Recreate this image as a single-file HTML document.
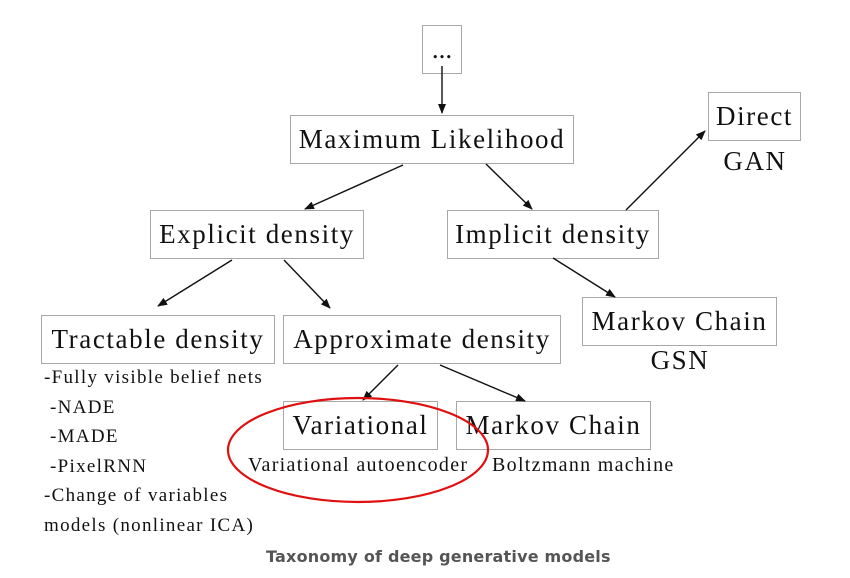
<!DOCTYPE html>
<html><head><meta charset="utf-8"><style>
body{margin:0;width:850px;height:578px;background:#fff;position:relative;overflow:hidden;font-family:"Liberation Serif",serif;color:#111}
.b{position:absolute;border:1px solid #a8a8a8;box-sizing:border-box;display:flex;align-items:center;justify-content:center;font-size:27px;letter-spacing:1.6px;white-space:nowrap;background:#fff}
.t{position:absolute;white-space:nowrap;font-size:20px;letter-spacing:1.3px}
.l{position:absolute;white-space:nowrap;font-size:27px;letter-spacing:1.6px;text-align:center}
</style></head><body>
<div class="b" style="left:422px;top:25px;width:40px;height:49px;letter-spacing:0">...</div>
<div class="b" style="left:290px;top:115px;width:284px;height:49px">Maximum Likelihood</div>
<div class="b" style="left:708px;top:92px;width:93px;height:49px">Direct</div>
<div class="l" style="left:705px;top:146px;width:100px">GAN</div>
<div class="b" style="left:150px;top:210px;width:214px;height:49px">Explicit density</div>
<div class="b" style="left:447px;top:210px;width:212px;height:49px">Implicit density</div>
<div class="b" style="left:41px;top:315px;width:234px;height:49px">Tractable density</div>
<div class="b" style="left:283px;top:315px;width:278px;height:49px">Approximate density</div>
<div class="b" style="left:582px;top:297px;width:195px;height:49px">Markov Chain</div>
<div class="l" style="left:630px;top:345px;width:100px">GSN</div>
<div class="b" style="left:283px;top:401px;width:155px;height:49px">Variational</div>
<div class="b" style="left:456px;top:401px;width:195px;height:49px;background:transparent">Markov Chain</div>
<div class="t" style="left:248px;top:454px">Variational autoencoder</div>
<div class="t" style="left:492px;top:454px">Boltzmann machine</div>
<div class="t" style="left:44px;top:363px;line-height:29.5px;font-size:19px">-Fully visible belief nets<br>&nbsp;-NADE<br>&nbsp;-MADE<br>&nbsp;-PixelRNN<br>-Change of variables<br>models (nonlinear ICA)</div>
<div style="position:absolute;left:266px;top:547px;white-space:nowrap;font-family:'DejaVu Sans',sans-serif;font-weight:bold;font-size:16px;letter-spacing:0.2px;color:#555">Taxonomy of deep generative models</div>
<svg width="850" height="578" style="position:absolute;left:0;top:0" >
<defs><marker id="a" markerWidth="10" markerHeight="8" refX="9" refY="4" orient="auto" markerUnits="userSpaceOnUse"><path d="M0,0 L10,4 L0,8 Z" fill="#111"/></marker></defs>
<g stroke="#111" stroke-width="1.4" marker-end="url(#a)">
<line x1="442" y1="66" x2="442" y2="113"/>
<line x1="403" y1="165" x2="305" y2="209"/>
<line x1="486" y1="164" x2="532" y2="209"/>
<line x1="626" y1="210" x2="705" y2="131"/>
<line x1="232" y1="260" x2="158" y2="306"/>
<line x1="284" y1="260" x2="330" y2="308"/>
<line x1="553" y1="258" x2="615" y2="297"/>
<line x1="398" y1="365" x2="363" y2="400"/>
<line x1="440" y1="365" x2="525" y2="401"/>
</g>
<ellipse cx="358" cy="450" rx="130" ry="52" fill="none" stroke="#e01010" stroke-width="2.2"/>
</svg>
</body></html>
